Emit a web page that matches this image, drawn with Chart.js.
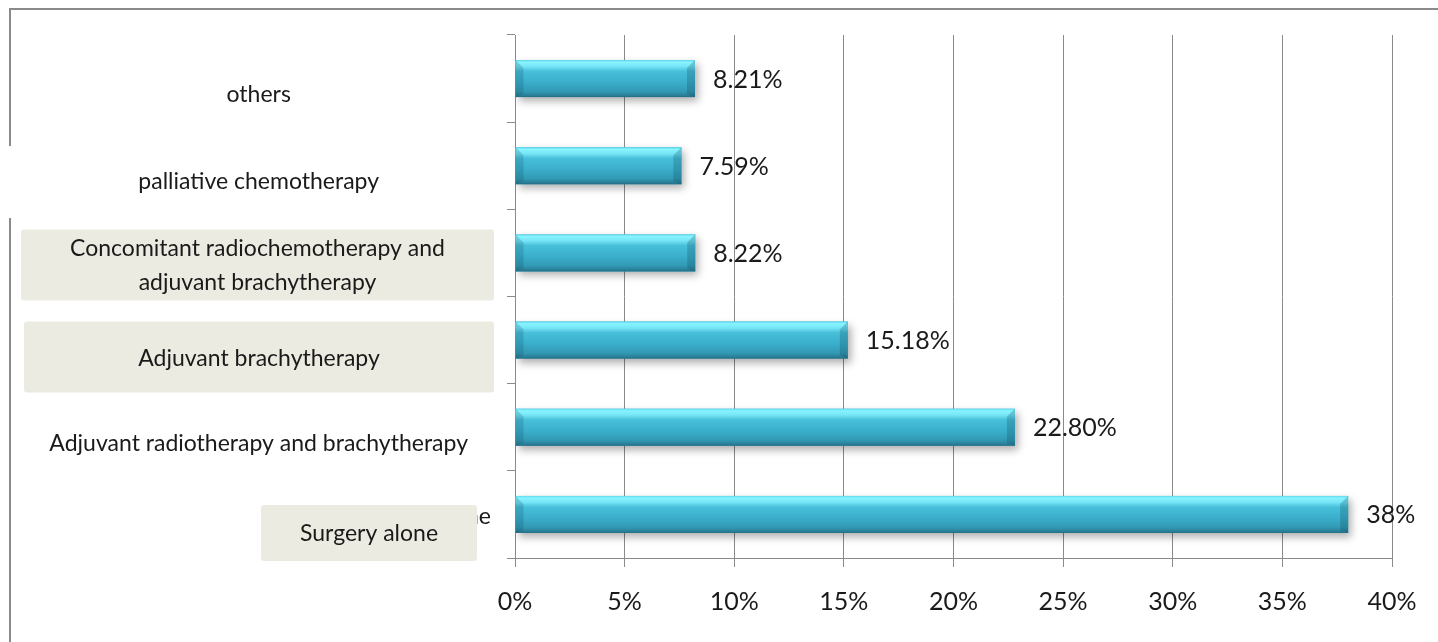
<!DOCTYPE html>
<html>
<head>
<meta charset="utf-8">
<title>Treatment modalities</title>
<script src="https://cdn.jsdelivr.net/npm/chart.js@4"></script>
<style>
  html, body { margin: 0; background: #fff; }
  canvas { display: block; }
</style>
</head>
<body>
<canvas id="treatmentChart" width="1438" height="642"></canvas>
<script>
const categories = [
  'others',
  'palliative chemotherapy',
  ['Concomitant radiochemotherapy and', 'adjuvant brachytherapy'],
  'Adjuvant brachytherapy',
  'Adjuvant radiotherapy and brachytherapy',
  'Surgery alone'
];
const shares = [8.21, 7.59, 8.22, 15.18, 22.80, 38];
const xTicks = [0, 5, 10, 15, 20, 25, 30, 35, 40];

const FONT = 'Lato, "DejaVu Sans", sans-serif';
const GREY = '#8a8a8a';
const INK = '#1a1a1a';

// these category names sit on shaded text boxes (offsets from the category centre)
const boxed = {
  2: { left: 21, right: 494, top: -23.5, bottom: 47.5 },
  3: { left: 24, right: 494, top: -18.5, bottom: 52.5 },
  5: { left: 261, right: 477, top: -9.5, bottom: 46.5 }
};

const pct = v => (Number.isInteger(v) ? v : v.toFixed(2)) + '%';

// outer frame, with the gap on the left edge
const framePlugin = {
  id: 'frame',
  beforeDraw(chart) {
    const ctx = chart.ctx;
    ctx.save();
    ctx.strokeStyle = GREY;
    ctx.lineWidth = 2;
    ctx.beginPath();
    ctx.moveTo(10, 146);
    ctx.lineTo(10, 9);
    ctx.lineTo(chart.width, 9);
    ctx.moveTo(10, 218);
    ctx.lineTo(10, chart.height);
    ctx.stroke();
    ctx.restore();
  }
};

// soft shadow under the bars, then a cylinder-like shading on top
const barShade = {
  id: 'barShade',
  beforeDatasetDraw(chart) {
    const ctx = chart.ctx;
    ctx.save();
    ctx.shadowColor = 'rgba(0,0,0,0.32)';
    ctx.shadowBlur = 8;
    ctx.shadowOffsetX = 3;
    ctx.shadowOffsetY = 4;
  },
  afterDatasetDraw(chart, args) {
    const ctx = chart.ctx;
    ctx.restore();
    args.meta.data.forEach(el => {
      const { x, y, base, height } = el.getProps(['x', 'y', 'base', 'height'], true);
      const top = y - height / 2;
      const g = ctx.createLinearGradient(0, top, 0, top + height);
      g.addColorStop(0, '#62d8ec');
      g.addColorStop(0.06, '#88f4ff');
      g.addColorStop(0.18, '#74e3f5');
      g.addColorStop(0.3, '#48c0da');
      g.addColorStop(0.6, '#3aaecb');
      g.addColorStop(0.85, '#3299b4');
      g.addColorStop(0.95, '#2a8099');
      g.addColorStop(1, '#236c81');
      ctx.save();
      ctx.fillStyle = g;
      ctx.fillRect(base, top, x - base, height);
      const b = 8;
      // right end
      ctx.fillStyle = 'rgba(15,70,90,0.25)';
      ctx.beginPath();
      ctx.moveTo(x - b, top + b);
      ctx.lineTo(x, top);
      ctx.lineTo(x, top + height);
      ctx.lineTo(x - b, top + height - 3);
      ctx.closePath();
      ctx.fill();
      // left end
      ctx.fillStyle = 'rgba(15,70,90,0.2)';
      ctx.beginPath();
      ctx.moveTo(base, top);
      ctx.lineTo(base + b, top + b);
      ctx.lineTo(base + b, top + height - 3);
      ctx.lineTo(base, top + height);
      ctx.closePath();
      ctx.fill();
      ctx.restore();
    });
  }
};

// value labels and the boxed category names
const labelPlugin = {
  id: 'labels',
  afterDraw(chart) {
    const ctx = chart.ctx;
    const yScale = chart.scales.y;
    ctx.save();
    ctx.fillStyle = INK;
    ctx.textBaseline = 'middle';
    ctx.font = '25px ' + FONT;
    ctx.textAlign = 'left';
    chart.getDatasetMeta(0).data.forEach((el, i) => {
      ctx.fillText(pct(shares[i]), el.x + 18, el.y + 1);
    });

    // leftover of the axis label peeking out beside its box
    ctx.font = '23px ' + FONT;
    ctx.textAlign = 'right';
    ctx.fillText('Surgery alone', 491, yScale.getPixelForValue(5) + 2);

    ctx.textAlign = 'center';
    Object.keys(boxed).forEach(k => {
      const i = Number(k);
      const box = boxed[i];
      const cy = yScale.getPixelForValue(i);
      const top = cy + box.top;
      const bottom = cy + box.bottom;
      ctx.fillStyle = '#ecebe1';
      ctx.beginPath();
      ctx.roundRect(box.left, top, box.right - box.left, bottom - top, 3);
      ctx.fill();
      ctx.fillStyle = INK;
      const lines = [].concat(categories[i]);
      const lh = 34;
      const mid = (top + bottom) / 2;
      lines.forEach((line, n) => {
        ctx.fillText(line, (box.left + box.right) / 2, mid + (n - (lines.length - 1) / 2) * lh + 1);
      });
    });
    ctx.restore();
  }
};

const ctx = document.getElementById('treatmentChart');
const treatmentChart = new Chart(ctx, {
  type: 'bar',
  data: {
    labels: categories,
    datasets: [{
      data: shares,
      backgroundColor: '#3aaecb',
      borderWidth: 0,
      categoryPercentage: 1,
      barPercentage: 0.425
    }]
  },
  options: {
    indexAxis: 'y',
    responsive: false,
    animation: false,
    layout: { padding: { left: 12, right: 46, top: 35, bottom: 0 } },
    plugins: {
      legend: { display: false },
      tooltip: { enabled: false }
    },
    scales: {
      x: {
        type: 'linear',
        min: 0,
        max: 40,
        afterBuildTicks: scale => { scale.ticks = xTicks.map(v => ({ value: v })); },
        afterFit: scale => { scale.height = 84; },
        ticks: {
          callback: v => v + '%',
          color: INK,
          padding: 20,
          font: { family: FONT, size: 25 }
        },
        grid: { color: GREY, lineWidth: 1, tickLength: 9 },
        border: { color: GREY, width: 1 }
      },
      y: {
        afterFit: scale => {
          scale.width = 503;
          scale.paddingTop = 0;
          scale.paddingBottom = 0;
        },
        ticks: {
          callback: (value, index) => (boxed[index] ? '' : categories[index]),
          crossAlign: 'center',
          labelOffset: 16,
          padding: 39,
          color: INK,
          font: { family: FONT, size: 23 }
        },
        grid: { offset: true, drawOnChartArea: false, color: GREY, tickLength: 8 },
        border: { color: GREY, width: 1 }
      }
    }
  },
  plugins: [framePlugin, barShade, labelPlugin]
});
</script>
</body>
</html>
